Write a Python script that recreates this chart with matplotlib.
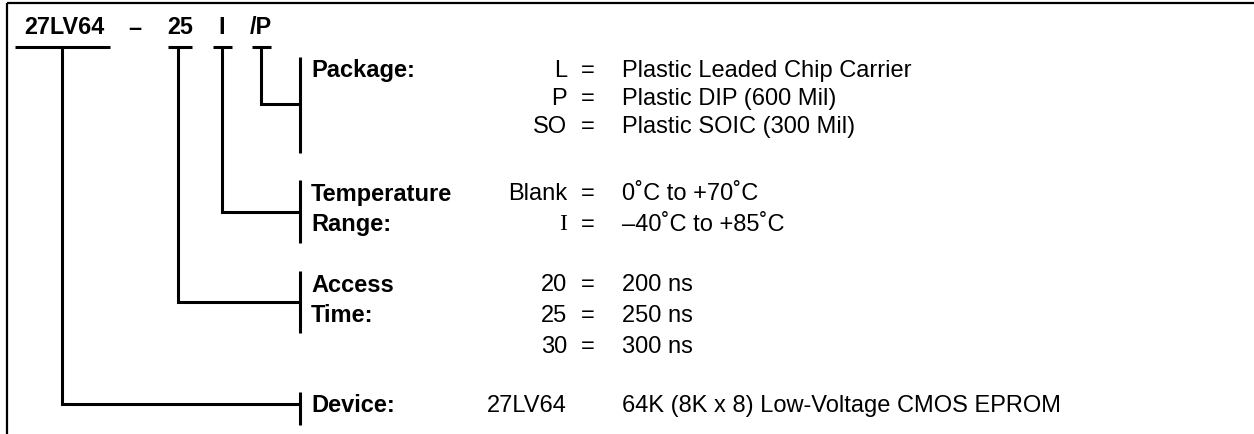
import matplotlib.pyplot as plt

# part number fields shown on top
header_parts = ["27LV64", "–", "25", "I", "/P"]

# option groups (label lines, codes, descriptions)
package_label = ["Package:"]
package_codes = ["L", "P", "SO"]
package_desc = ["Plastic Leaded Chip Carrier", "Plastic DIP (600 Mil)", "Plastic SOIC (300 Mil)"]

temp_label = ["Temperature", "Range:"]
temp_codes = ["Blank", "I"]
temp_desc = ["0˚C to +70˚C", "–40˚C to +85˚C"]

access_label = ["Access", "Time:"]
access_codes = ["20", "25", "30"]
access_desc = ["200 ns", "250 ns", "300 ns"]

device_label = ["Device:"]
device_codes = ["27LV64"]
device_desc = ["64K (8K x 8) Low-Voltage CMOS EPROM"]

# layout (pixels, origin top-left)
W, H = 1254, 434
header_x = [64, 135, 180, 222, 261]
header_y = 28
under_y = 47
under_span = {0: (15, 110), 2: (168, 192), 3: (213, 232), 4: (252, 271)}
drop_x = {0: 62, 2: 178, 3: 222, 4: 261}

bar_x = 300
label_x = 311
code_x = 567
eq_x = 588
desc_x = 622
fs = 17

groups = [
    # header index, label, codes, desc, first row y, row step, bar span, tick y
    (4, package_label, package_codes, package_desc, 71, 28, (57, 153), 104),
    (3, temp_label, temp_codes, temp_desc, 194, 31, (180, 243), 212),
    (2, access_label, access_codes, access_desc, 285, 31, (271, 333), 302),
    (0, device_label, device_codes, device_desc, 406, 31, (392, 425), 404),
]

fig = plt.figure(figsize=(W / 100, H / 100), dpi=100)
ax = fig.add_axes([0, 0, 1, 1])
ax.set_xlim(0, W)
ax.set_ylim(H, 0)
ax.axis("off")

lw = 2.2
# frame: top and left edges only
ax.plot([7, W], [3, 3], color="black", lw=1.6, solid_capstyle="butt")
ax.plot([7, 7], [3, H], color="black", lw=1.6, solid_capstyle="butt")

for i, part in enumerate(header_parts):
    ax.text(header_x[i], header_y, part, ha="center", va="center",
            fontsize=16.8, fontweight="bold", family="Liberation Sans")
    if i in under_span:
        x0, x1 = under_span[i]
        ax.plot([x0, x1], [under_y, under_y], color="black", lw=lw, solid_capstyle="butt")

for hi, label, codes, desc, y0, step, (b0, b1), ty in groups:
    dx = drop_x[hi]
    ax.plot([dx, dx, bar_x], [under_y, ty, ty], color="black", lw=lw,
            solid_joinstyle="miter", solid_capstyle="butt")
    ax.plot([bar_x, bar_x], [b0, b1], color="black", lw=lw, solid_capstyle="butt")
    for j, line in enumerate(label):
        ax.text(label_x, y0 + j * 31, line, ha="left", va="center",
                fontsize=fs, fontweight="bold", family="Liberation Sans")
    for j, (c, d) in enumerate(zip(codes, desc)):
        y = y0 + j * step
        fam = "Liberation Serif" if c == "I" else "Liberation Sans"
        ax.text(code_x, y, c, ha="right", va="center", fontsize=fs, family=fam)
        if label is not device_label:
            ax.text(eq_x, y, "=", ha="center", va="center", fontsize=fs, family="Liberation Sans")
        ax.text(desc_x, y, d, ha="left", va="center", fontsize=fs, family="Liberation Sans")

fig.savefig("out.png", dpi=100)
